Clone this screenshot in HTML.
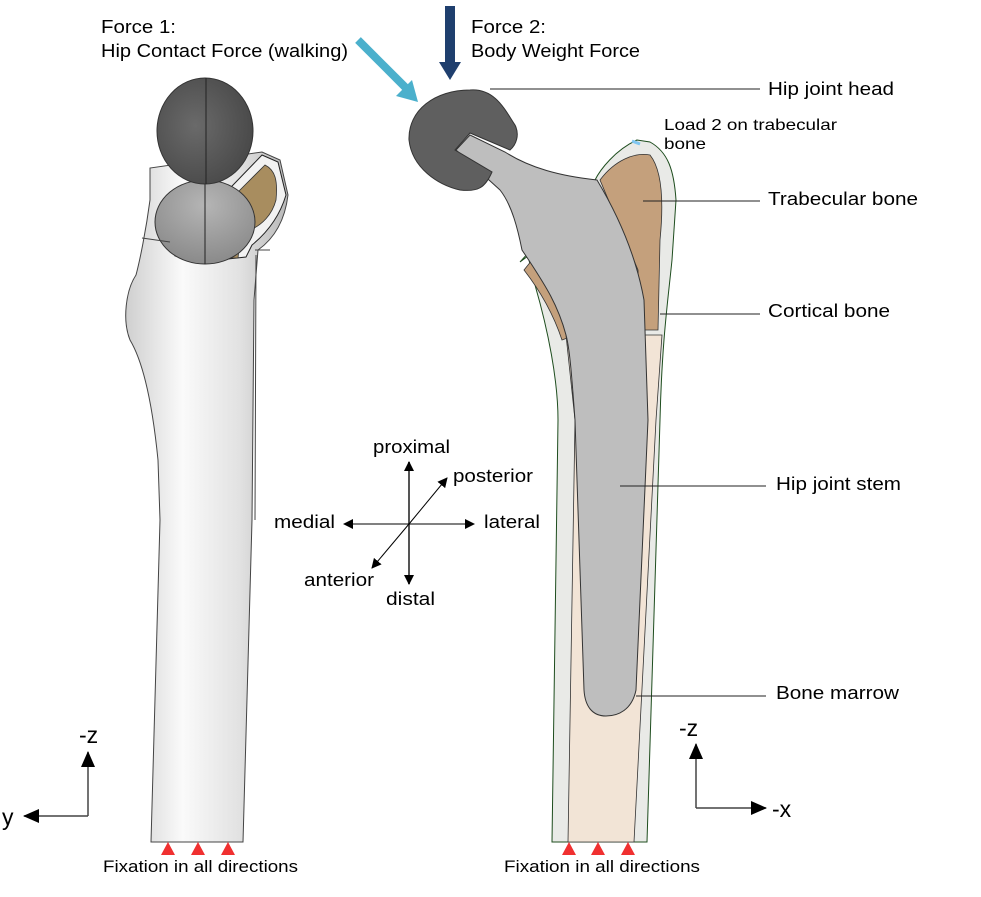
<!DOCTYPE html>
<html><head><meta charset="utf-8"><style>
body{margin:0;background:#fff;}
svg{display:block;font-family:"Liberation Sans",sans-serif;}
</style></head><body>
<svg width="981" height="897" viewBox="0 0 981 897" xmlns="http://www.w3.org/2000/svg">
<defs>
<linearGradient id="bone" x1="0" x2="1" y1="0" y2="0">
<stop offset="0" stop-color="#cfcfcf"/><stop offset="0.35" stop-color="#fafafa"/><stop offset="0.7" stop-color="#e2e2e2"/><stop offset="1" stop-color="#b8b8b8"/>
</linearGradient>
<radialGradient id="dark" cx="0.4" cy="0.45" r="0.6"><stop offset="0" stop-color="#6a6a6a"/><stop offset="1" stop-color="#4a4a4a"/></radialGradient>
<radialGradient id="mid" cx="0.5" cy="0.3" r="0.7"><stop offset="0" stop-color="#b5b5b5"/><stop offset="1" stop-color="#8a8a8a"/></radialGradient>
<marker id="ah" markerWidth="10" markerHeight="10" refX="9" refY="5" orient="auto" markerUnits="userSpaceOnUse"><path d="M0,0 L10,5 L0,10 z" fill="#000"/></marker>
<marker id="ahb" markerWidth="16" markerHeight="14" refX="15" refY="7" orient="auto" markerUnits="userSpaceOnUse"><path d="M0,0 L16,7 L0,14 z" fill="#000"/></marker>
</defs>

<!-- LEFT BONE -->
<path d="M150,168 L150,200 C146,230 140,260 136,275 C126,290 122,320 130,340 C142,360 152,400 158,460 L160,520 L151,842 L243,842 L252,520 L254,300 L258,250 C275,238 285,220 288,195 L280,160 L262,152 Z" fill="url(#bone)" stroke="#444" stroke-width="1"/>
<path d="M262,155 L278,162 L286,195 C280,215 268,232 252,245 L246,257 L200,262 L175,256 L170,245 L180,240 Z" fill="#f2f2f2" stroke="#222" stroke-width="1"/>
<path d="M265,165 C275,170 278,180 276,200 C272,215 262,225 250,230 L240,240 L238,258 L200,258 L185,252 L190,245 L240,190 Z" fill="#a88d5f" stroke="#333" stroke-width="0.8"/>
<ellipse cx="205" cy="222" rx="50" ry="42" fill="url(#mid)" stroke="#333" stroke-width="1"/>
<line x1="205" y1="180" x2="205" y2="264" stroke="#222" stroke-width="1"/>
<ellipse cx="205" cy="131" rx="48" ry="53" fill="url(#dark)" stroke="#333" stroke-width="1"/>
<line x1="206" y1="78" x2="206" y2="184" stroke="#222" stroke-width="1"/>
<path d="M142,238 L170,242 M255,250 L270,250 M256,255 L255,520" stroke="#444" stroke-width="1" fill="none"/>

<!-- RIGHT BONE: cortical -->
<path d="M520,262 L528,256 L535,285 C548,330 558,380 558,420 L552,842 L647,842 L660,420 C662,340 668,300 672,260 L676,200 C674,170 668,152 650,142 L637,140 C615,150 600,170 595,180 Z" fill="#e9eae7" stroke="#1e4d1e" stroke-width="1"/>
<path d="M632,141 L640,144" stroke="#7fc6f0" stroke-width="3"/>
<!-- trabecular -->
<path d="M600,180 C615,160 635,152 650,155 C662,170 664,200 660,240 L658,330 L640,330 L638,270 Z" fill="#c4a07c" stroke="#333" stroke-width="0.8"/>
<path d="M524,270 L532,260 C546,280 560,305 570,337 L562,340 C552,310 538,288 524,270 Z" fill="#c4a07c" stroke="#333" stroke-width="0.8"/>
<!-- marrow -->
<path d="M566,335 L662,335 L656,420 L634,842 L568,842 L575,420 Z" fill="#f2e4d6" stroke="#333" stroke-width="0.8"/>
<!-- stem -->
<path d="M456,150 L470,135 L505,152 C530,168 560,176 597,180 C615,210 635,250 644,300 L648,420 L636,690 C632,710 618,716 606,716 C592,716 585,706 584,690 L575,420 C572,380 570,350 566,335 C558,305 545,285 530,262 L522,250 C518,230 512,205 500,190 Z" fill="#bebebe" stroke="#333" stroke-width="1"/>
<!-- head -->
<path d="M470,90 C495,88 505,110 515,125 C520,135 516,145 510,150 L470,133 L455,150 L492,172 C485,188 478,192 460,190 C438,185 412,168 409,140 C408,110 435,90 470,90 Z" fill="#5f5f5f" stroke="#333" stroke-width="1"/>

<!-- force arrows -->
<line x1="358" y1="40" x2="406" y2="88" stroke="#4bb0cc" stroke-width="8"/>
<path d="M396,96 L418,102 L412,80 Z" fill="#4bb0cc"/>
<rect x="445" y="6" width="10" height="58" fill="#1f3f6e"/>
<path d="M439,62 L461,62 L450,80 Z" fill="#1f3f6e"/>

<!-- leader lines -->
<g stroke="#222" stroke-width="1">
<line x1="490" y1="89" x2="760" y2="89"/>
<line x1="643" y1="201" x2="760" y2="201"/>
<line x1="660" y1="314" x2="760" y2="314"/>
<line x1="620" y1="486" x2="766" y2="486"/>
<line x1="636" y1="696" x2="766" y2="696"/>
</g>

<!-- direction cross -->
<g stroke="#555" stroke-width="2"><line x1="409" y1="584" x2="409" y2="462" marker-end="url(#ah)"/><line x1="409" y1="524" x2="409" y2="584" marker-end="url(#ah)"/></g>
<g stroke="#000" stroke-width="1"><line x1="409" y1="524" x2="344" y2="524" marker-end="url(#ah)"/><line x1="409" y1="524" x2="474" y2="524" marker-end="url(#ah)"/><line x1="409" y1="524" x2="447" y2="478" marker-end="url(#ah)"/><line x1="409" y1="524" x2="372" y2="568" marker-end="url(#ah)"/></g>

<!-- axes -->
<g stroke="#444" stroke-width="1.5"><line x1="88" y1="816" x2="88" y2="752" marker-end="url(#ahb)"/><line x1="88" y1="816" x2="24" y2="816" marker-end="url(#ahb)"/>
<line x1="696" y1="808" x2="696" y2="744" marker-end="url(#ahb)"/><line x1="696" y1="808" x2="766" y2="808" marker-end="url(#ahb)"/></g>

<!-- fixation triangles -->
<g fill="#f03030"><path d="M161,855 L175,855 L168,842Z"/><path d="M191,855 L205,855 L198,842Z"/><path d="M221,855 L235,855 L228,842Z"/>
<path d="M562,855 L576,855 L569,842Z"/><path d="M591,855 L605,855 L598,842Z"/><path d="M621,855 L635,855 L628,842Z"/></g>

<!-- text -->
<g fill="#000" font-size="18" lengthAdjust="spacingAndGlyphs">
<text x="101" y="33" textLength="75" lengthAdjust="spacingAndGlyphs">Force 1:</text>
<text x="101" y="57" textLength="247" lengthAdjust="spacingAndGlyphs">Hip Contact Force (walking)</text>
<text x="471" y="33" textLength="75" lengthAdjust="spacingAndGlyphs">Force 2:</text>
<text x="471" y="57" textLength="169" lengthAdjust="spacingAndGlyphs">Body Weight Force</text>
<text x="768" y="95" textLength="126" lengthAdjust="spacingAndGlyphs">Hip joint head</text>
<text x="768" y="205" textLength="150" lengthAdjust="spacingAndGlyphs">Trabecular bone</text>
<text x="768" y="317" textLength="122" lengthAdjust="spacingAndGlyphs">Cortical bone</text>
<text x="776" y="490" textLength="125" lengthAdjust="spacingAndGlyphs">Hip joint stem</text>
<text x="776" y="699" textLength="123" lengthAdjust="spacingAndGlyphs">Bone marrow</text>
<text x="373" y="453" textLength="77" lengthAdjust="spacingAndGlyphs">proximal</text>
<text x="453" y="482" textLength="80" lengthAdjust="spacingAndGlyphs">posterior</text>
<text x="274" y="528" textLength="61" lengthAdjust="spacingAndGlyphs">medial</text>
<text x="484" y="528" textLength="56" lengthAdjust="spacingAndGlyphs">lateral</text>
<text x="304" y="586" textLength="70" lengthAdjust="spacingAndGlyphs">anterior</text>
<text x="386" y="605" textLength="49" lengthAdjust="spacingAndGlyphs">distal</text>
<text x="103" y="872" font-size="17" textLength="195" lengthAdjust="spacingAndGlyphs">Fixation in all directions</text>
<text x="504" y="872" font-size="17" textLength="196" lengthAdjust="spacingAndGlyphs">Fixation in all directions</text>
</g>
<g fill="#000" font-size="16"><text x="664" y="130" textLength="173" lengthAdjust="spacingAndGlyphs">Load 2 on trabecular</text><text x="664" y="149" textLength="42" lengthAdjust="spacingAndGlyphs">bone</text></g>
<g fill="#000" font-size="23"><text x="79" y="743">-z</text><text x="2" y="825">y</text><text x="679" y="736">-z</text><text x="772" y="817">-x</text></g>
</svg>
</body></html>
